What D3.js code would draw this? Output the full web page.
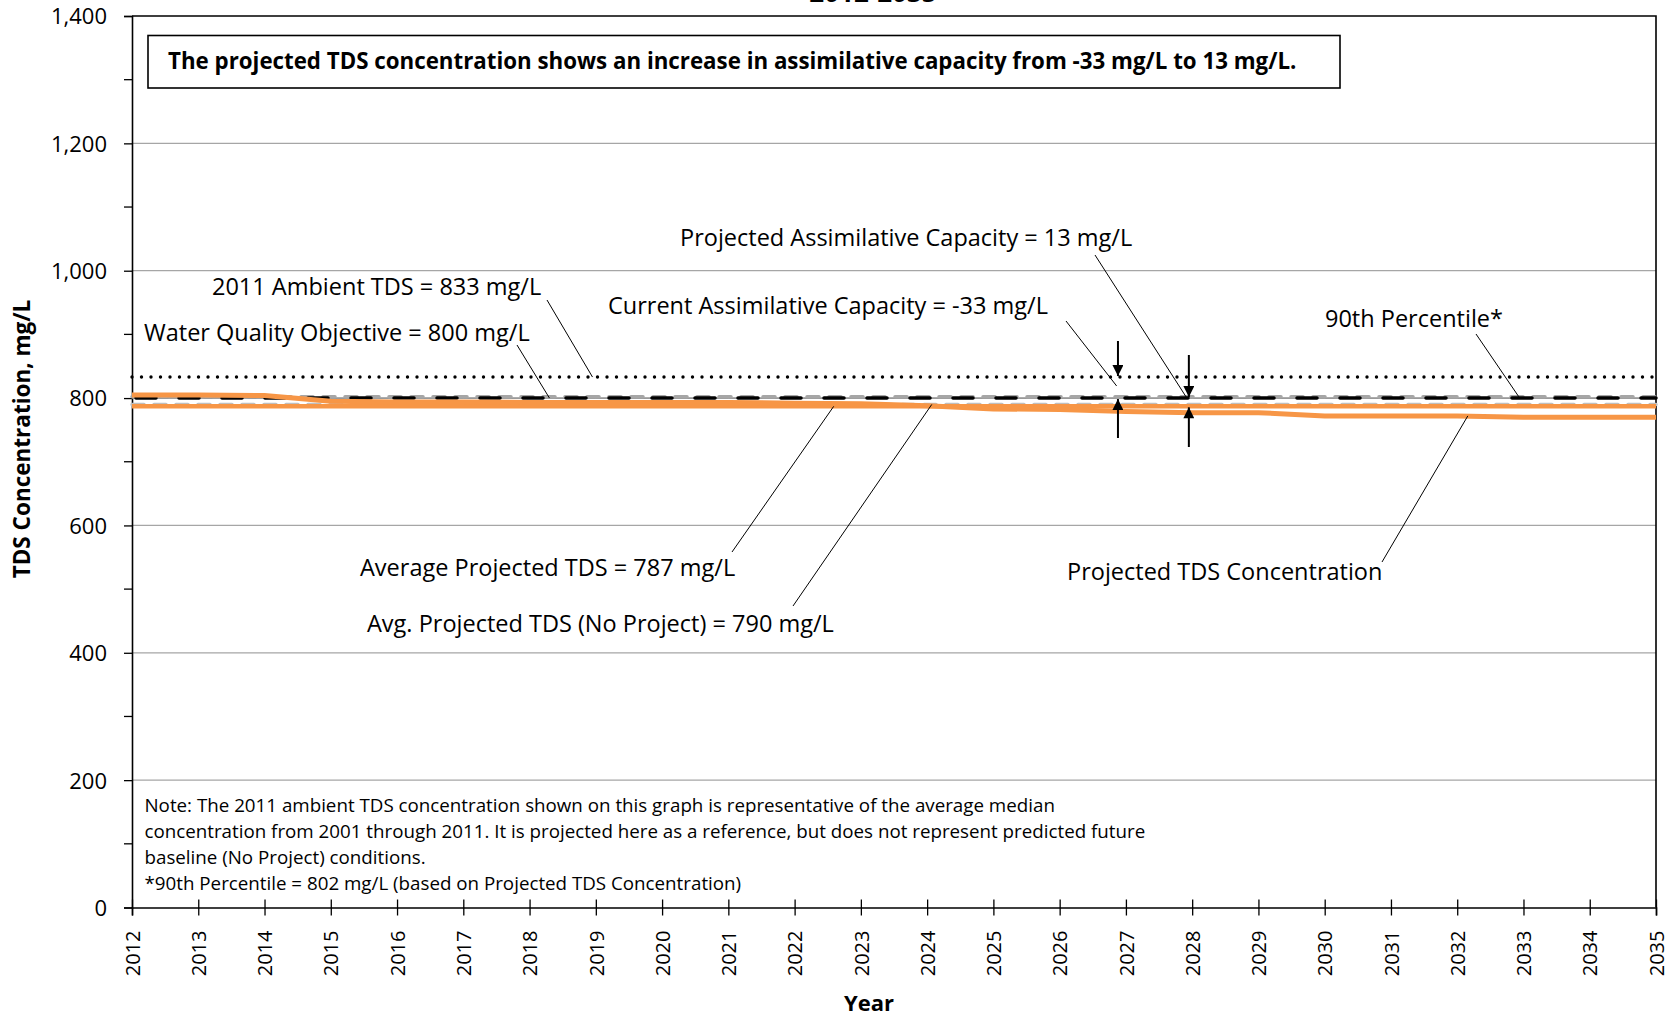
<!DOCTYPE html>
<html><head><meta charset="utf-8">
<script src="https://cdn.jsdelivr.net/npm/d3@7"></script>
<style>
html,body{margin:0;padding:0;background:#fff;}
svg{display:block;}
text{font-family:"Open Sans",Lato,sans-serif;fill:#000;}
</style></head>
<body><svg id="c" width="1680" height="1017"></svg>
<script>
// ---- data ----
const years = [2012,2013,2014,2015,2016,2017,2018,2019,2020,2021,2022,2023,2024,2025,2026,2027,2028,2029,2030,2031,2032,2033,2034,2035];
const projectedTDS = [805,805,804,795,794,794,793,793,793,793,792,791,788,783,782,779,777,777,772,772,772,770,770,770];
const avgProjectedTDS = 787;
const avgNoProjectTDS = 790;
const waterQualityObjective = 800;
const ambient2011 = 833;
const percentile90 = 802;
const yTicks = [0,200,400,600,800,1000,1200,1400];
const yMinorTicks = [100,300,500,700,900,1100,1300];
const titleText = "2012-2035";
const headline = "The projected TDS concentration shows an increase in assimilative capacity from -33 mg/L to 13 mg/L.";
const noteLines = [
  "Note: The 2011 ambient TDS concentration shown on this graph is representative of the average median",
  "concentration from 2001 through 2011.  It is projected here as a reference, but does not represent predicted future",
  "baseline (No Project) conditions.",
  "*90th Percentile = 802 mg/L (based on Projected TDS Concentration)"
];
const annotations = [
  {text:"Projected Assimilative Capacity = 13 mg/L", tx:680, ty:246, x1:1095, y1:255, px:2027.92, py:800},
  {text:"2011 Ambient TDS = 833 mg/L", tx:212, ty:295, x1:547, y1:300, px:2018.95, py:833},
  {text:"Current Assimilative Capacity =  -33 mg/L", tx:608, ty:314, x1:1066, y1:321, px:2026.86, py:819},
  {text:"90th Percentile*", tx:1325, ty:327, x1:1476, y1:334, px:2032.93, py:802},
  {text:"Water Quality Objective = 800 mg/L", tx:144, ty:341, x1:517, y1:345, px:2018.3, py:800},
  {text:"Average Projected TDS = 787 mg/L", tx:360, ty:576, x1:732, y1:552, px:2022.59, py:787},
  {text:"Avg. Projected TDS (No Project) = 790 mg/L", tx:367, ty:632, x1:793, y1:606, px:2024.07, py:790},
  {text:"Projected TDS Concentration", tx:1067, ty:580, x1:1382, y1:562, px:2032.16, py:772}
];
const arrows = [
  {year:2026.88, from:341, to:ambient2011},
  {year:2026.88, from:438, to:waterQualityObjective},
  {year:2027.95, from:355, to:waterQualityObjective},
  {year:2027.95, from:447, to:avgProjectedTDS}
];

// ---- chart ----
const svg = d3.select("#c");
const x = d3.scaleLinear().domain([2012,2035]).range([132,1656]);
const y = d3.scaleLinear().domain([0,1400]).range([907.5,16]);
const orange = "#F79646";

// gridlines
svg.append("g").selectAll("line").data(yTicks.filter(d=>d>0 && d<1400)).join("line")
  .attr("x1",x(2012)).attr("x2",x(2035)).attr("y1",d=>y(d)).attr("y2",d=>y(d))
  .attr("stroke","#a6a6a6").attr("stroke-width",1.2);

// plot border top/right
svg.append("path").attr("d",`M${x(2012)},${y(1400)}H${x(2035)}V${y(0)}`)
  .attr("fill","none").attr("stroke","#000").attr("stroke-width",1.6);

// y axis
const yAxis = d3.axisLeft(y).tickValues(yTicks).tickSize(8).tickPadding(17).tickFormat(d3.format(","));
const gy = svg.append("g").attr("transform",`translate(${x(2012)},0)`).call(yAxis);
gy.select(".domain").attr("stroke","#000").attr("stroke-width",1.6);
gy.selectAll(".tick line").attr("stroke","#000").attr("stroke-width",1.3);
gy.selectAll(".tick text").attr("font-family","Open Sans").attr("font-size",22).attr("fill","#000").attr("dy","0.36em");
svg.append("g").selectAll("line").data(yMinorTicks).join("line")
  .attr("x1",x(2012)-8).attr("x2",x(2012)).attr("y1",d=>y(d)).attr("y2",d=>y(d))
  .attr("stroke","#000").attr("stroke-width",1.3);

// x axis
const xAxis = d3.axisBottom(x).tickValues(years).tickSize(8).tickFormat(d3.format("d"));
const gx = svg.append("g").attr("transform",`translate(0,${y(0)})`).call(xAxis);
gx.select(".domain").attr("stroke","#000").attr("stroke-width",1.6);
gx.selectAll(".tick line").attr("stroke","#000").attr("stroke-width",1.3).attr("y1",-8).attr("y2",8);
gx.selectAll(".tick text").attr("font-family","DejaVu Sans").attr("font-size",20).attr("fill","#000")
  .attr("transform","rotate(-90)").attr("text-anchor","end").attr("x",-23).attr("y",0).attr("dy","0.36em");

// reference lines
const flat = v => years.map(yr=>({yr, v}));
const line = d3.line().x(d=>x(d.yr)).y(d=>y(d.v));
svg.append("path").datum(flat(waterQualityObjective)).attr("d",line)
  .attr("fill","none").attr("stroke","#7f7f7f").attr("stroke-width",1);
svg.append("path").datum(flat(avgNoProjectTDS)).attr("d",line)
  .attr("fill","none").attr("stroke","#bfbfbf").attr("stroke-width",3.5)
  .attr("stroke-dasharray","12,10").attr("stroke-linecap","round");
svg.append("path").datum(flat(percentile90)).attr("d",line)
  .attr("fill","none").attr("stroke","#a6a6a6").attr("stroke-width",3.5)
  .attr("stroke-dasharray","12,10").attr("stroke-linecap","round").attr("stroke-dashoffset",-15);
svg.append("path").datum(flat(waterQualityObjective)).attr("d",line)
  .attr("fill","none").attr("stroke","#000").attr("stroke-width",3.5)
  .attr("stroke-dasharray","20,23").attr("stroke-linecap","round").attr("stroke-dashoffset",-4);
svg.append("path").datum(flat(ambient2011)).attr("d",line)
  .attr("fill","none").attr("stroke","#000").attr("stroke-width",3.4)
  .attr("stroke-dasharray","0,9.5").attr("stroke-linecap","round");
svg.append("path").datum(flat(avgProjectedTDS)).attr("d",line)
  .attr("fill","none").attr("stroke",orange).attr("stroke-width",4.5);
svg.append("path").datum(years.map((yr,i)=>({yr, v:projectedTDS[i]}))).attr("d",line)
  .attr("fill","none").attr("stroke",orange).attr("stroke-width",5);

// arrows
const defs = svg.append("defs");
defs.append("marker").attr("id","ah").attr("viewBox","0 0 10 10").attr("refX",10).attr("refY",5)
  .attr("markerWidth",17).attr("markerHeight",11).attr("markerUnits","userSpaceOnUse").attr("orient","auto")
  .append("path").attr("d","M0,0L10,5L0,10Z").attr("fill","#000");
svg.append("g").selectAll("line").data(arrows).join("line")
  .attr("x1",d=>x(d.year)).attr("x2",d=>x(d.year)).attr("y1",d=>d.from)
  .attr("y2",d=>y(d.to)+(d.from<y(d.to)?-1:1))
  .attr("stroke","#000").attr("stroke-width",2).attr("marker-end","url(#ah)");

// annotations
const ga = svg.append("g");
ga.selectAll("line").data(annotations).join("line")
  .attr("x1",d=>d.x1).attr("y1",d=>d.y1).attr("x2",d=>x(d.px)).attr("y2",d=>y(d.py))
  .attr("stroke","#000").attr("stroke-width",1);
ga.selectAll("text").data(annotations).join("text")
  .attr("x",d=>d.tx).attr("y",d=>d.ty).attr("font-size",23.5).text(d=>d.text);

// headline box
svg.append("rect").attr("x",148).attr("y",35.5).attr("width",1192).attr("height",52.5)
  .attr("fill","#fff").attr("stroke","#000").attr("stroke-width",1.6);
svg.append("text").attr("x",168).attr("y",68.5).attr("font-weight","bold").attr("font-size",22.3).text(headline);

// title (mostly clipped)
svg.append("text").attr("x",873).attr("y",2).attr("text-anchor","middle").attr("font-weight","bold").attr("font-size",26).text(titleText);

// note
svg.append("g").selectAll("text").data(noteLines).join("text")
  .attr("x",144.5).attr("y",(d,i)=>812+i*26).attr("font-size",18.75).text(d=>d);

// axis titles
svg.append("text").attr("transform","translate(30,439) rotate(-90)").attr("text-anchor","middle")
  .attr("font-weight","bold").attr("font-size",22.5).text("TDS Concentration, mg/L");
svg.append("text").attr("x",869).attr("y",1011).attr("text-anchor","middle")
  .attr("font-weight","bold").attr("font-size",22).text("Year");
</script></body></html>
